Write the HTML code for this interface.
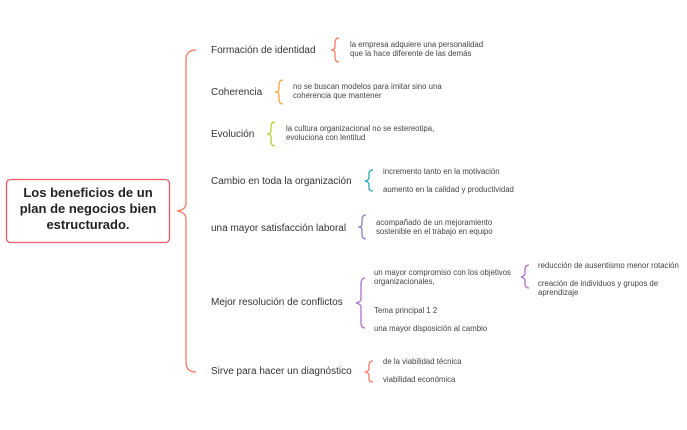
<!DOCTYPE html>
<html><head><meta charset="utf-8"><style>
html,body{margin:0;padding:0;background:#fff;}
svg text{font-family:"Liberation Sans",sans-serif;fill:#333;}
.m{font-size:10px;}
.s{font-size:7.8px;fill:#444;}
</style></head><body>
<svg width="687" height="425" viewBox="0 0 687 425" xmlns="http://www.w3.org/2000/svg">
<g fill="none" stroke-width="1.3">
<path d="M196,50 Q186,50 186,60 L186,203 Q186,210 177,211 Q186,212 186,219 L186,362 Q186,372 196,372" stroke="#f47b62"/>
<path d="M339,38 Q335,38 335,43 L335,47 Q335,50 331,50 Q335,50 335,53 L335,57 Q335,62 339,62" stroke="#f47b62"/>
<path d="M283,80 Q279,80 279,85 L279,89 Q279,92 275,92 Q279,92 279,95 L279,99 Q279,104 283,104" stroke="#f6a83c"/>
<path d="M275,122 Q271,122 271,127 L271,131 Q271,134 267,134 Q271,134 271,137 L271,141 Q271,146 275,146" stroke="#b5cf3a"/>
<path d="M373,170 Q369,170 369,174 L369,178 Q369,180 365,181 Q369,182 369,184 L369,188 Q369,191 373,191" stroke="#2aa3b5"/>
<path d="M366,215 Q362,215 362,220 L362,224 Q362,227 358,227 Q362,227 362,230 L362,234 Q362,239 366,239" stroke="#8f7fd0"/>
<path d="M365,278 Q361,278 361,284 L361,299 Q361,302 356,303 Q361,304 361,307 L361,322 Q361,328 365,328" stroke="#b070c8"/>
<path d="M529,265 Q525,265 525,270 L525,273 Q525,276 521,277 Q525,278 525,281 L525,284 Q525,288 529,288" stroke="#b070c8"/>
<path d="M373,361 Q369,361 369,365 L369,369 Q369,371 365,372 Q369,373 369,375 L369,379 Q369,382 373,382" stroke="#f47b62"/>
</g>
<rect x="6.5" y="179.5" width="163" height="63" rx="4" fill="#fff" stroke="#e85a64" stroke-width="1.3"/>
<g style="font-size:13px;font-weight:600">
<text x="88" y="197" text-anchor="middle" style="fill:#222">Los beneficios de un</text>
<text x="88" y="213" text-anchor="middle" style="fill:#222">plan de negocios bien</text>
<text x="88" y="229" text-anchor="middle" style="fill:#222">estructurado.</text>
</g>
<text class="m" x="211" y="53">Formación de identidad</text>
<text class="m" x="211" y="95">Coherencia</text>
<text class="m" x="211" y="137">Evolución</text>
<text class="m" x="211" y="184">Cambio en toda la organización</text>
<text class="m" x="211" y="231">una mayor satisfacción laboral</text>
<text class="m" x="211" y="305">Mejor resolución de conflictos</text>
<text class="m" x="211" y="374">Sirve para hacer un diagnóstico</text>
<text class="s" x="350" y="47">la empresa adquiere una personalidad</text>
<text class="s" x="350" y="56">que la hace diferente de las demás</text>
<text class="s" x="293" y="89">no se buscan modelos para imitar sino una</text>
<text class="s" x="293" y="98">coherencia que mantener</text>
<text class="s" x="286" y="131">la cultura organizacional no se estereotipa,</text>
<text class="s" x="286" y="140">evoluciona con lentitud</text>
<text class="s" x="383" y="174">incremento tanto en la motivación</text>
<text class="s" x="383" y="192">aumento en la calidad y productividad</text>
<text class="s" x="376" y="225">acompañado de un mejoramiento</text>
<text class="s" x="376" y="234">sostenible en el trabajo en equipo</text>
<text class="s" x="374" y="275">un mayor compromiso con los objetivos</text>
<text class="s" x="374" y="284">organizacionales,</text>
<text class="s" x="374" y="313">Tema principal 1 2</text>
<text class="s" x="374" y="331">una mayor disposición al cambio</text>
<text class="s" x="538" y="268">reducción de ausentismo menor rotación</text>
<text class="s" x="538" y="286">creación de individuos y grupos de</text>
<text class="s" x="538" y="295">aprendizaje</text>
<text class="s" x="383" y="364">de la viabilidad técnica</text>
<text class="s" x="383" y="382">viabilidad económica</text>
</svg>
</body></html>
